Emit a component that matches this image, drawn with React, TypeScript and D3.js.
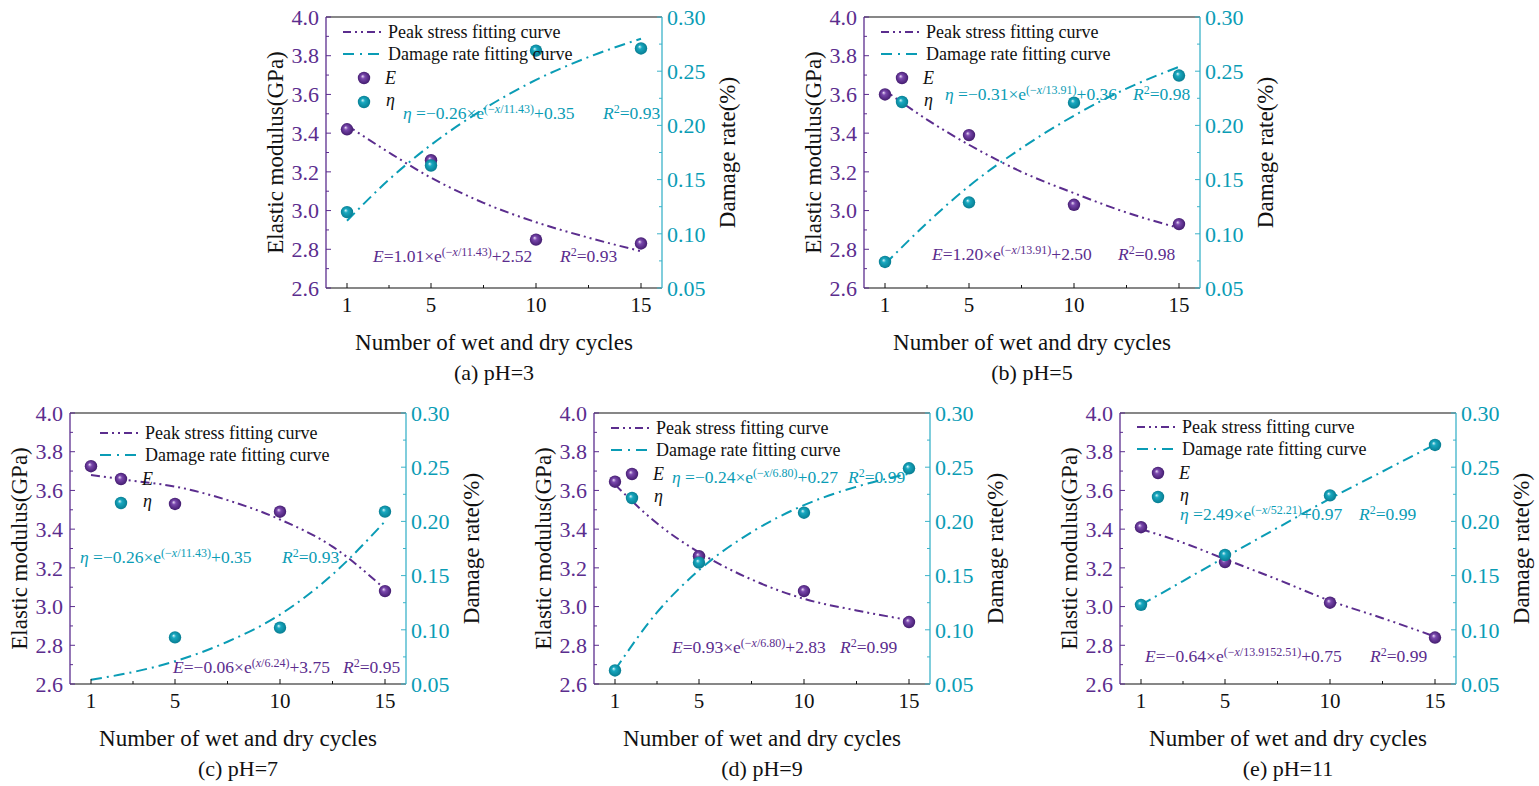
import * as d3 from "d3"

// ---- data ----
const cycles = [1, 5, 10, 15]
const fitCycles = [1, 3, 5, 7.5, 10, 12.5, 15]

const modulusPH3 = [3.42, 3.26, 2.85, 2.83]
const damagePH3 = [0.12, 0.163, 0.269, 0.271]
const modulusFitPH3 = [3.44, 3.3, 3.17, 3.04, 2.94, 2.86, 2.79]
const damageFitPH3 = [0.112, 0.15, 0.182, 0.215, 0.242, 0.263, 0.28]

const modulusPH5 = [3.6, 3.39, 3.03, 2.93]
const damagePH5 = [0.074, 0.129, 0.221, 0.246]
const modulusFitPH5 = [3.62, 3.47, 3.34, 3.2, 3.09, 2.99, 2.91]
const damageFitPH5 = [0.072, 0.11, 0.144, 0.179, 0.209, 0.234, 0.254]

const modulusPH7 = [3.725, 3.53, 3.49, 3.08]
const damagePH7 = [null, 0.093, 0.102, 0.209]
const modulusFitPH7 = [3.68, 3.65, 3.62, 3.55, 3.45, 3.31, 3.09]
const damageFitPH7 = [0.054, 0.061, 0.071, 0.089, 0.114, 0.151, 0.2]

const modulusPH9 = [3.645, 3.26, 3.08, 2.92]
const damagePH9 = [0.0625, 0.162, 0.208, 0.249]
const modulusFitPH9 = [3.63, 3.43, 3.28, 3.14, 3.04, 2.98, 2.93]
const damageFitPH9 = [0.063, 0.116, 0.155, 0.19, 0.215, 0.232, 0.244]

const modulusPH11 = [3.41, 3.23, 3.02, 2.84]
const damagePH11 = [0.123, 0.169, 0.224, 0.2705]
const modulusFitPH11 = [3.4, 3.33, 3.245, 3.14, 3.03, 2.94, 2.845]
const damageFitPH11 = [0.123, 0.145, 0.167, 0.194, 0.221, 0.246, 0.271]

const xTicks = [1, 5, 10, 15]

const serif = "'Liberation Serif', 'Times New Roman', serif"
const purple = "#5b2d8e"
const teal = "#0a9cb5"
const tealSpine = "#3cb3c9"

const W = 336
const H = 271

const panels = [
  {
    caption: "(a) pH=3", left: 326, top: 17,
    modulus: modulusPH3, damage: damagePH3, modulusFit: modulusFitPH3, damageFit: damageFitPH3,
    legend: [0, 0],
    eta: { x: 77, y: 102, lead: " =\u22120.26\u00d7e", pre: "(\u2212", post: "/11.43)", tail: "+0.35", rx: 277, r2: "=0.93" },
    e: { x: 47, y: 245, lead: "=1.01\u00d7e", pre: "(\u2212", post: "/11.43)", tail: "+2.52", rx: 234, r2: "=0.93" },
  },
  {
    caption: "(b) pH=5", left: 864, top: 17,
    modulus: modulusPH5, damage: damagePH5, modulusFit: modulusFitPH5, damageFit: damageFitPH5,
    legend: [0, 0],
    eta: { x: 81, y: 83, lead: " =\u22120.31\u00d7e", pre: "(\u2212", post: "/13.91)", tail: "+0.36", rx: 269, r2: "=0.98" },
    e: { x: 68, y: 243, lead: "=1.20\u00d7e", pre: "(\u2212", post: "/13.91)", tail: "+2.50", rx: 254, r2: "=0.98" },
  },
  {
    caption: "(c) pH=7", left: 70, top: 413,
    modulus: modulusPH7, damage: damagePH7, modulusFit: modulusFitPH7, damageFit: damageFitPH7,
    legend: [13, 5],
    eta: { x: 10, y: 150, lead: " =\u22120.26\u00d7e", pre: "(\u2212", post: "/11.43)", tail: "+0.35", rx: 212, r2: "=0.93" },
    e: { x: 103, y: 260, lead: "=\u22120.06\u00d7e", pre: "(", post: "/6.24)", tail: "+3.75", rx: 273, r2: "=0.95" },
  },
  {
    caption: "(d) pH=9", left: 594, top: 413,
    modulus: modulusPH9, damage: damagePH9, modulusFit: modulusFitPH9, damageFit: damageFitPH9,
    legend: [0, 0],
    eta: { x: 78, y: 70, lead: " =\u22120.24\u00d7e", pre: "(\u2212", post: "/6.80)", tail: "+0.27", rx: 254, r2: "=0.99" },
    e: { x: 78, y: 240, lead: "=0.93\u00d7e", pre: "(\u2212", post: "/6.80)", tail: "+2.83", rx: 246, r2: "=0.99" },
  },
  {
    caption: "(e) pH=11", left: 1120, top: 413,
    modulus: modulusPH11, damage: damagePH11, modulusFit: modulusFitPH11, damageFit: damageFitPH11,
    legend: [0, -1],
    eta: { x: 60, y: 107, lead: " =2.49\u00d7e", pre: "(\u2212", post: "/52.21)", tail: "+0.97", rx: 239, r2: "=0.99" },
    e: { x: 25, y: 249, lead: "=\u22120.64\u00d7e", pre: "(\u2212", post: "/13.9152.51)", tail: "+0.75", rx: 250, r2: "=0.99" },
  },
]

const dashE = "9 4 2 4 2 4"
const dashEta = "11 5 2 5"

function Formula({ sym, spec, color }: any) {
  return (
    <g fill={color} fontFamily={serif} fontSize={17.5}>
      <text x={spec.x} y={spec.y}>
        <tspan fontStyle="italic">{sym}</tspan>
        <tspan>{spec.lead}</tspan>
        <tspan dy={-6.5} fontSize={12}>
          {spec.pre}
          <tspan fontStyle="italic">x</tspan>
          {spec.post}
        </tspan>
        <tspan dy={6.5}>{spec.tail}</tspan>
      </text>
      <text x={spec.rx} y={spec.y}>
        <tspan fontStyle="italic">R</tspan>
        <tspan dy={-6.5} fontSize={12}>2</tspan>
        <tspan dy={6.5}>{spec.r2}</tspan>
      </text>
    </g>
  )
}

function Panel({ p }: any) {
  const x = d3.scaleLinear().domain([0, 16]).range([0, W])
  const yL = d3.scaleLinear().domain([2.6, 4.0]).range([H, 0])
  const yR = d3.scaleLinear().domain([0.05, 0.3]).range([H, 0])

  const leftTicks = yL.ticks(7)
  const leftMinor = d3.pairs(leftTicks).map(([a, b]) => (a + b) / 2)
  const rightTicks = yR.ticks(5)
  const rightMinor = d3.pairs(rightTicks).map(([a, b]) => (a + b) / 2)
  const xMinor = d3.pairs(xTicks).map(([a, b]) => (a + b) / 2)

  const lineE = d3
    .line<number>()
    .x((_, i) => x(fitCycles[i]))
    .y((d) => yL(d))
    .curve(d3.curveMonotoneX)
  const lineEta = d3
    .line<number>()
    .x((_, i) => x(fitCycles[i]))
    .y((d) => yR(d))
    .curve(d3.curveMonotoneX)

  const [lx, ly] = p.legend

  return (
    <g transform={`translate(${p.left},${p.top})`}>
      {/* fitted curves */}
      <path d={lineE(p.modulusFit) || ""} fill="none" stroke={purple} strokeWidth={2} strokeDasharray={dashE} />
      <path d={lineEta(p.damageFit) || ""} fill="none" stroke={teal} strokeWidth={2} strokeDasharray={dashEta} />

      {/* points */}
      {p.modulus.map((v: number, i: number) => (
        <circle key={"e" + i} cx={x(cycles[i])} cy={yL(v)} r={6.2} fill="url(#sphereE)" />
      ))}
      {p.damage.map((v: number | null, i: number) =>
        v == null ? null : <circle key={"n" + i} cx={x(cycles[i])} cy={yR(v)} r={6.2} fill="url(#sphereEta)" />
      )}

      {/* legend */}
      <g fontFamily={serif} fontSize={18} transform={`translate(${lx},${ly})`}>
        <line x1={17} x2={57} y1={15} y2={15} stroke={purple} strokeWidth={2} strokeDasharray="8 4 2 4 2 4" />
        <text x={62} y={21} fill="#111">Peak stress fitting curve</text>
        <line x1={17} x2={57} y1={37} y2={37} stroke={teal} strokeWidth={2} strokeDasharray="11 6 2 6" />
        <text x={62} y={43} fill="#111">Damage rate fitting curve</text>
        <circle cx={38} cy={61} r={6.2} fill="url(#sphereE)" />
        <text x={59} y={67} fontStyle="italic" fill="#111">E</text>
        <circle cx={38} cy={85} r={6.2} fill="url(#sphereEta)" />
        <text x={60} y={89} fontStyle="italic" fill="#111">η</text>
      </g>

      <Formula sym="η" spec={p.eta} color={teal} />
      <Formula sym="E" spec={p.e} color={purple} />

      {/* frame */}
      <line x1={0} x2={W} y1={0} y2={0} stroke="#111" strokeWidth={1.2} />
      <line x1={0} x2={W} y1={H} y2={H} stroke="#111" strokeWidth={1.2} />
      <line x1={0} x2={0} y1={0} y2={H} stroke={purple} strokeWidth={1.3} />
      <line x1={W} x2={W} y1={0} y2={H} stroke={tealSpine} strokeWidth={1.3} />

      {/* left axis */}
      {leftTicks.map((t) => (
        <g key={"l" + t}>
          <line x1={0} x2={5} y1={yL(t)} y2={yL(t)} stroke={purple} strokeWidth={1} />
          <text x={-7} y={yL(t)} dy="0.35em" textAnchor="end" fontFamily={serif} fontSize={22} fill={purple}>
            {d3.format(".1f")(t)}
          </text>
        </g>
      ))}
      {leftMinor.map((t) => (
        <line key={"lm" + t} x1={0} x2={3} y1={yL(t)} y2={yL(t)} stroke={purple} strokeWidth={1} />
      ))}

      {/* right axis */}
      {rightTicks.map((t) => (
        <g key={"r" + t}>
          <line x1={W} x2={W - 5} y1={yR(t)} y2={yR(t)} stroke={tealSpine} strokeWidth={1} />
          <text x={W + 5} y={yR(t)} dy="0.35em" fontFamily={serif} fontSize={22} fill={teal}>
            {d3.format(".2f")(t)}
          </text>
        </g>
      ))}
      {rightMinor.map((t) => (
        <line key={"rm" + t} x1={W} x2={W - 3} y1={yR(t)} y2={yR(t)} stroke={tealSpine} strokeWidth={1} />
      ))}

      {/* bottom axis */}
      {xTicks.map((t) => (
        <g key={"x" + t}>
          <line x1={x(t)} x2={x(t)} y1={H} y2={H - 5} stroke="#111" strokeWidth={1} />
          <text x={x(t)} y={H + 24} textAnchor="middle" fontFamily={serif} fontSize={21} fill="#111">
            {t}
          </text>
        </g>
      ))}
      {xMinor.map((t) => (
        <line key={"xm" + t} x1={x(t)} x2={x(t)} y1={H} y2={H - 3} stroke="#111" strokeWidth={1} />
      ))}

      {/* titles */}
      <text
        transform={`translate(${-51},${H / 2}) rotate(-90)`}
        textAnchor="middle"
        dy="0.35em"
        fontFamily={serif}
        fontSize={23}
        fill="#111"
      >
        Elastic modulus(GPa)
      </text>
      <text
        transform={`translate(${W + 65},${H / 2}) rotate(-90)`}
        textAnchor="middle"
        dy="0.35em"
        fontFamily={serif}
        fontSize={23}
        fill="#111"
      >
        Damage rate(%)
      </text>
      <text x={W / 2} y={H + 62} textAnchor="middle" fontFamily={serif} fontSize={23} fill="#111">
        Number of wet and dry cycles
      </text>
      <text x={W / 2} y={H + 92} textAnchor="middle" fontFamily={serif} fontSize={22} fill="#111">
        {p.caption}
      </text>
    </g>
  )
}

export default function App() {
  return (
    <svg
      width={1539}
      height={786}
      style={{ position: "absolute", left: 0, top: 0, background: "#fff" }}
    >
      <defs>
        <radialGradient id="sphereE" cx="0.5" cy="0.5" r="0.55" fx="0.38" fy="0.35">
          <stop offset="0" stopColor="#e9dcf5" />
          <stop offset="0.3" stopColor="#7a48ad" />
          <stop offset="1" stopColor="#3d1768" />
        </radialGradient>
        <radialGradient id="sphereEta" cx="0.5" cy="0.5" r="0.55" fx="0.38" fy="0.35">
          <stop offset="0" stopColor="#d8f4f9" />
          <stop offset="0.3" stopColor="#18a8c0" />
          <stop offset="1" stopColor="#06788c" />
        </radialGradient>
      </defs>
      <rect width={1539} height={786} fill="#fff" />
      {panels.map((p) => (
        <Panel key={p.caption} p={p} />
      ))}
    </svg>
  )
}
